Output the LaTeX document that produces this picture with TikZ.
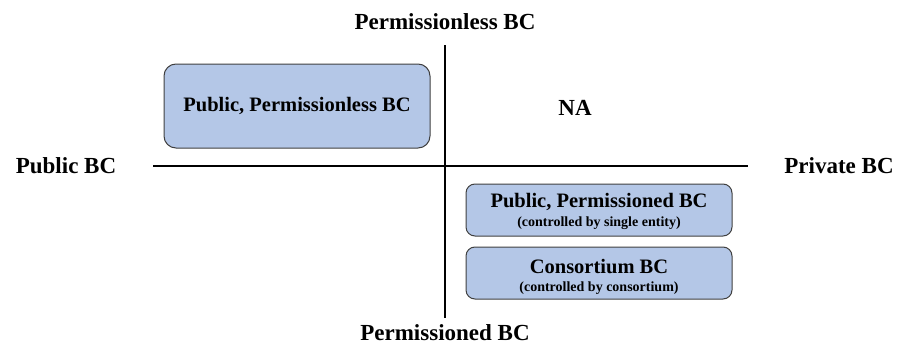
\documentclass[tikz,border=0pt]{standalone}
\usepackage{fontspec}
\setmainfont{Liberation Serif}
\begin{document}
\begin{tikzpicture}[x=1pt,y=-1pt,
  axislabel/.style={font=\bfseries\fontsize{23}{27}\selectfont, inner sep=0pt},
  bcbox/.style={draw=black!75, line width=1pt, fill=bcblue, rounded corners=12pt, inner sep=0pt},
  boxtitle/.style={font=\bfseries\fontsize{20.5}{24}\selectfont, inner sep=0pt},
  boxnote/.style={font=\bfseries\fontsize{14}{16}\selectfont, inner sep=0pt},
  axis/.style={line width=1.3pt, black}]
\definecolor{bcblue}{HTML}{B4C7E7}
\useasboundingbox (0,0) rectangle (899,348);

% quadrant axes
\coordinate (vtop) at (445,45);
\coordinate (vbot) at (445,318);
\coordinate (hleft) at (153,166);
\coordinate (hright) at (748,166);
\draw[axis] (vtop) -- (vbot);
\draw[axis] (hleft) -- (hright);

% axis labels
\node[axislabel] (ptop) at (445,22) {Permissionless BC};
\node[axislabel] (pbot) at (445,333) {Permissioned BC};
\node[axislabel] (pub) at (66,166) {Public BC};
\node[axislabel] (priv) at (839,166) {Private BC};
\node[axislabel] (na) at (575,108) {NA};

% blockchain categories
\draw[bcbox] (164,64) rectangle (430,148);
\node[boxtitle] (plbc) at (297,106) {Public, Permissionless BC};

\draw[bcbox, rounded corners=9pt] (466,184) rectangle (732,236);
\node[boxtitle] (ppbc) at (599,202) {Public, Permissioned BC};
\node[boxnote] (ppnote) at (599,223) {(controlled by single entity)};

\draw[bcbox, rounded corners=9pt] (466,247) rectangle (732,299);
\node[boxtitle] (cbc) at (599,267) {Consortium BC};
\node[boxnote] (cnote) at (599,288) {(controlled by consortium)};
\end{tikzpicture}
\end{document}
